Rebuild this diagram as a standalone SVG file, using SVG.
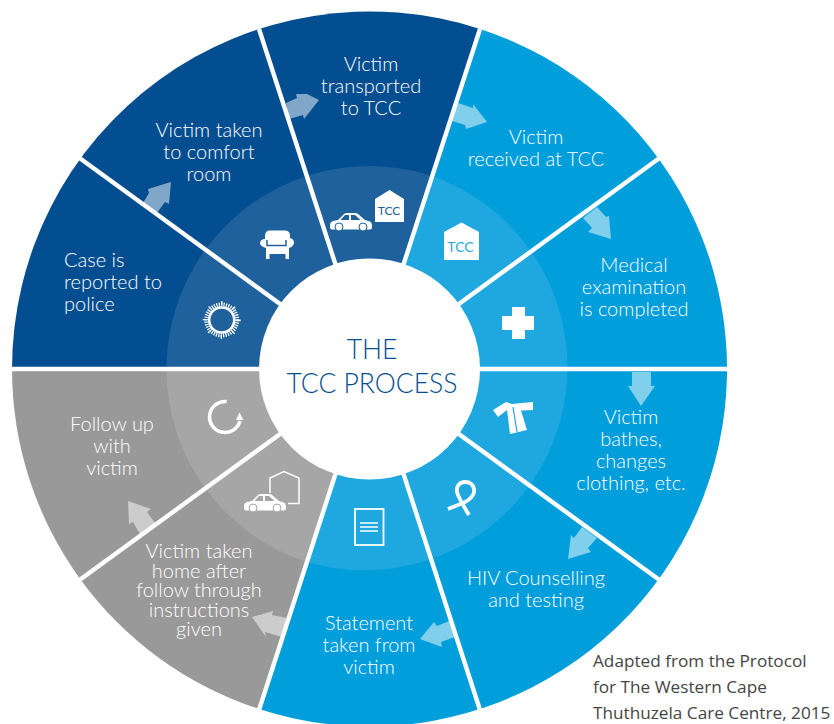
<svg xmlns="http://www.w3.org/2000/svg" width="834" height="724" viewBox="0 0 834 724">
<style>
text{font-family:"Lato","Open Sans","Liberation Sans",sans-serif;font-weight:300;font-size:20px;fill:#fff;text-anchor:middle}
.title{fill:#034e90;font-size:26.500px;font-weight:300}
.arrow{fill:#fff;fill-opacity:.5}
.ic{fill:#fff}
.ln{fill:none;stroke:#fff}
.spoke{stroke:#fff;stroke-width:4.4;fill:none}
.foot{font-family:"Open Sans","Liberation Sans",sans-serif;fill:#454545;font-weight:400;font-size:17.2px;text-anchor:start}
</style>
<defs>
<g id="car">
<path fill="#fff" d="M0 12q0-3 3-4l5-1 6-6q1-1 3-1h8q2 0 3 1l7 6 5 1.500q2 1 2 4v2q0 2-2 2H2q-2 0-2-2z"/>
<path fill="currentColor" d="M10.500 7l4.500-5h4v5zM21 2h4l5.500 5H21z"/>
<circle cx="9" cy="14" r="4" fill="#fff" stroke="currentColor" stroke-width="1"/>
<circle cx="33" cy="14" r="4" fill="#fff" stroke="currentColor" stroke-width="1"/>
</g>
</defs>
<g id="wheel">
<path fill="#034e90" d="M369.5 369L12 369A357.5 357.5 0 0 1 480 29Z"/>
<path fill="#009edb" d="M369.5 369L480 29A357.5 357.5 0 0 1 259 709Z"/>
<path fill="#999999" d="M369.5 369L259 709A357.5 357.5 0 0 1 12 369Z"/>
<path fill="#1f619c" d="M369.5 369L166.5 369A203 203 0 0 1 432.2 176Z"/>
<path fill="#1fa8df" d="M369.5 369L432.2 176A203 203 0 0 1 306.8 562Z"/>
<path fill="#a6a6a6" d="M369.5 369L306.8 562A203 203 0 0 1 166.5 369Z"/>
</g>
<g id="connectors">
<polygon class="arrow" points="143,203 149,193 148,189 171,182 169,204 165,202 157,213"/>
<polygon class="arrow" points="286,103 297,98 296,94 307,94 319,100 304,119 303,115 289,119"/>
<polygon class="arrow" points="458,103 473,108 473,104 487,122 466,129 465,125 452,121"/>
<polygon class="arrow" points="597,207 606,217 609,216 611,239 588,232 592,228 583,218"/>
<polygon class="arrow" points="632,372 651,372 651,386 655,386 641,406 628,386 632,386"/>
<polygon class="arrow" points="582,527 597,538 588,548 591,552 568,559 571,535 574,538"/>
<polygon class="arrow" points="449,621 455,637 441,642 442,647 420,639 434,622 437,626"/>
<polygon class="arrow" points="287,618 282,637 265,632 266,637 252,617 273,611 272,615"/>
<polygon class="arrow" points="155,523 140,534 133,522 129,524 128,501 151,509 147,512"/>
<path class="spoke" d="M369.5 369H10M369.5 369H729M369.5 369L79.5 158M369.5 369L659.5 158M369.5 369L259 29M369.5 369L480 29M369.5 369L79.5 580M369.5 369L659.5 580M369.5 369L259 710M369.5 369L480 710"/>
</g>
<g id="center"><circle cx="369.5" cy="369" r="110.5" fill="#fff"/>
<text class="title" x="372" y="359">THE</text>
<text class="title" x="372" y="393">TCC PROCESS</text></g>
<g id="n1"><text style="text-anchor:start"><tspan x="64" y="267">Case is</tspan><tspan x="64" dy="22">reported to</tspan><tspan x="64" dy="22">police</tspan></text>
<circle class="ln" cx="221.700" cy="320" r="12.500" stroke-width="2.500"/><circle class="ln" cx="221.700" cy="320" r="15.500" stroke-width="4" stroke-dasharray="1.200 1.200"/><circle class="ln" cx="221.700" cy="320" r="17" stroke-width="4" stroke-dasharray="1.200 12"/></g>
<g id="n2"><text><tspan x="209" y="137">Victim taken</tspan><tspan x="209" dy="22">to comfort</tspan><tspan x="209" dy="22">room</tspan></text>
<path class="ic" d="M270 230.500h15a5 5 0 0 1 5 4.500v3a4.500 4.500 0 0 1 2.300 8c-.7 1-1.500 1.500-3.300 2v11h-3.500v-5h-16v5H266v-11c-4-1-6-3-6-5a4.500 4.500 0 0 1 5-4v-4a5 5 0 0 1 5-4.500z"/><path d="M267 240v5.500h19V240" fill="none" stroke="#1f619c" stroke-width="1.500"/></g>
<g id="n3"><text><tspan x="371" y="71">Victim</tspan><tspan x="371" dy="22">transported</tspan><tspan x="371" dy="22">to TCC</tspan></text>
<use href="#car" transform="translate(330 213)" color="#1f619c"/>
<path class="ic" d="M375 199l14.500-9 14.500 9v23h-29z"/><text x="389" y="215" style="fill:#1f619c;font-size:12px;font-weight:400">TCC</text></g>
<g id="n4"><text><tspan x="536" y="144">Victim</tspan><tspan x="536" dy="22">received at TCC</tspan></text>
<path class="ic" d="M444 232l17.500-9.500 17.500 9.500v28h-35z"/><text x="460.500" y="252" style="fill:#1fa8df;font-size:14px;font-weight:400">TCC</text></g>
<g id="n5"><text><tspan x="634" y="272">Medical</tspan><tspan x="634" dy="22">examination</tspan><tspan x="634" dy="22">is completed</tspan></text>
<path class="ic" d="M512 307h13v9h9v14h-9v9h-13v-9h-10v-14h10z"/></g>
<g id="n6"><text><tspan x="631" y="424">Victim</tspan><tspan x="631" dy="22">bathes,</tspan><tspan x="631" dy="22">changes</tspan><tspan x="631" dy="22">clothing, etc.</tspan></text>
<path class="ic" d="M493 410l13-8 6 2 21-2v8l-12 .500 6 19.500-17 4-3-24-9 7z"/><path d="M513 407l4 25" stroke="#1fa8df" stroke-width="1.200" fill="none"/></g>
<g id="n7"><text><tspan x="536" y="585">HIV Counselling</tspan><tspan x="536" dy="22">and testing</tspan></text>
<path d="M448 509L463 503C472 499 475 493 474 489C473 484 469 482 465 482C459 482 456 487 457 492C458 497 463 505 469 515" fill="none" stroke="#fff" stroke-width="3.800"/></g>
<g id="n8"><text><tspan x="369" y="630">Statement</tspan><tspan x="369" dy="22">taken from</tspan><tspan x="369" dy="22">victim</tspan></text>
<rect x="355" y="509" width="28.500" height="36" fill="none" stroke="#fff" stroke-width="1.800"/><path d="M360 523h18M360 527h18M360 531h18" stroke="#fff" stroke-width="1.500"/></g>
<g id="n9"><text><tspan x="199" y="558">Victim taken</tspan><tspan x="199" dy="19.500">home after</tspan><tspan x="199" dy="19.500">follow through</tspan><tspan x="199" dy="19.500">instructions</tspan><tspan x="199" dy="19.500">given</tspan></text>
<path class="ln" d="M270 493v-15l14-6.500 15 6.500v25.500h-11" stroke-width="1.500"/>
<use href="#car" transform="translate(244 494)" color="#a6a6a6"/></g>
<g id="n10"><text><tspan x="112" y="431">Follow up</tspan><tspan x="112" dy="22">with</tspan><tspan x="112" dy="22">victim</tspan></text>
<path class="ln" d="M226.700 401.500A15.500 15.500 0 1 0 240 421" stroke-width="3.500"/><path class="ic" d="M236 420l3.500-7.500 4 7.500z"/></g>
<g id="footer"><text class="foot"><tspan x="593" y="667">Adapted from the Protocol</tspan><tspan x="593" dy="26">for The Western Cape</tspan><tspan x="593" dy="26">Thuthuzela Care Centre, 2015</tspan></text></g>
</svg>
